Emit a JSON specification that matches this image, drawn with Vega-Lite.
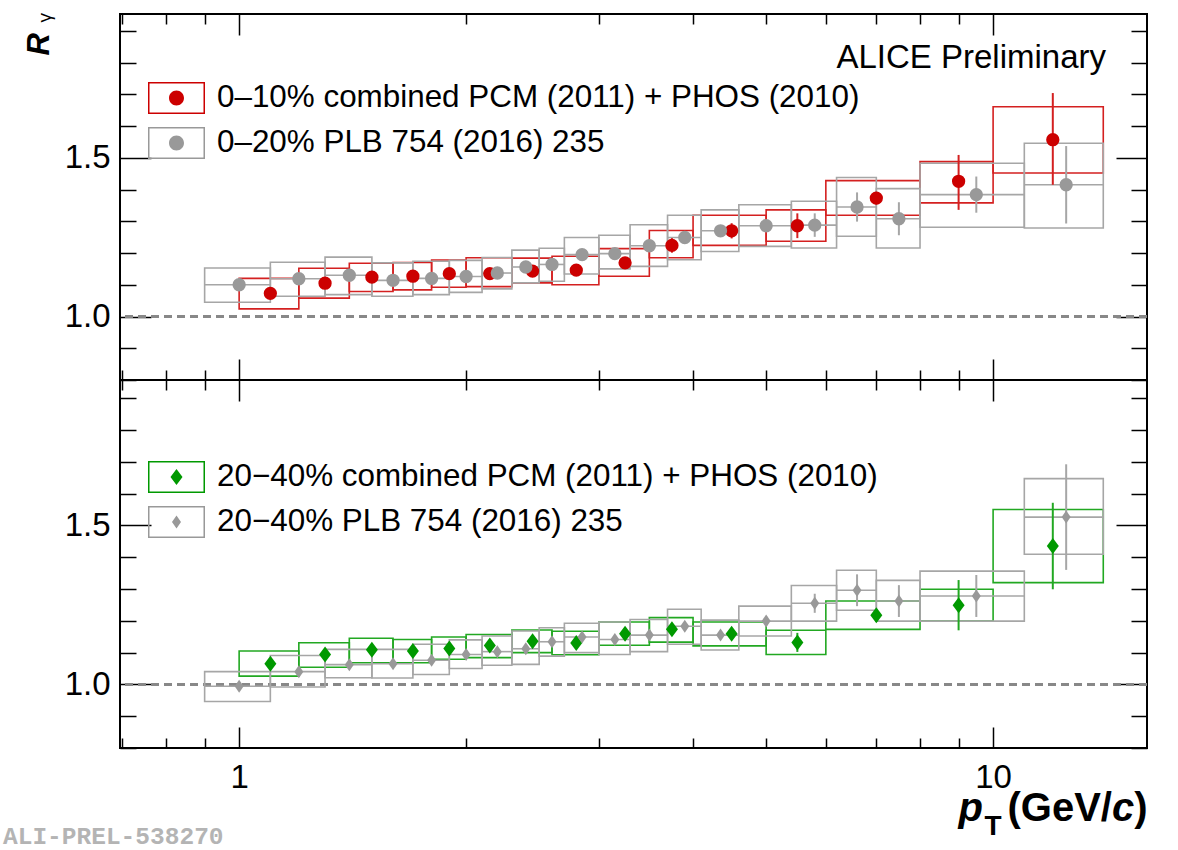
{
  "$schema": "https://vega.github.io/schema/vega-lite/v6.json",
  "background": "white",
  "padding": {"left": 3, "top": 11, "right": 0, "bottom": 0},
  "spacing": 0,
  "bounds": "flush",
  "title": {"text": "ALI-PREL-538270", "orient": "bottom", "anchor": "start", "frame": "bounds", "font": "Liberation Mono", "fontSize": 24.5, "fontWeight": "bold", "color": "#b4b4b4", "baseline": "alphabetic", "offset": 0, "dy": 3, "dx": -19},
  "datasets": {
    "top": [
      {"s": "0–10% combined PCM (2011) + PHOS (2010)", "pt": 1.1, "lo": 1.0, "hi": 1.2, "v": 1.073, "sl": 1.024, "sh": 1.120, "el": 1.065, "eh": 1.081},
      {"s": "0–10% combined PCM (2011) + PHOS (2010)", "pt": 1.3, "lo": 1.2, "hi": 1.4, "v": 1.105, "sl": 1.058, "sh": 1.152, "el": 1.097, "eh": 1.113},
      {"s": "0–10% combined PCM (2011) + PHOS (2010)", "pt": 1.5, "lo": 1.4, "hi": 1.6, "v": 1.124, "sl": 1.079, "sh": 1.168, "el": 1.116, "eh": 1.132},
      {"s": "0–10% combined PCM (2011) + PHOS (2010)", "pt": 1.7, "lo": 1.6, "hi": 1.8, "v": 1.127, "sl": 1.084, "sh": 1.170, "el": 1.119, "eh": 1.135},
      {"s": "0–10% combined PCM (2011) + PHOS (2010)", "pt": 1.9, "lo": 1.8, "hi": 2.0, "v": 1.135, "sl": 1.092, "sh": 1.178, "el": 1.127, "eh": 1.143},
      {"s": "0–10% combined PCM (2011) + PHOS (2010)", "pt": 2.15, "lo": 2.0, "hi": 2.3, "v": 1.135, "sl": 1.094, "sh": 1.185, "el": 1.127, "eh": 1.143},
      {"s": "0–10% combined PCM (2011) + PHOS (2010)", "pt": 2.45, "lo": 2.3, "hi": 2.6, "v": 1.143, "sl": 1.106, "sh": 1.184, "el": 1.133, "eh": 1.153},
      {"s": "0–10% combined PCM (2011) + PHOS (2010)", "pt": 2.8, "lo": 2.6, "hi": 3.0, "v": 1.146, "sl": 1.100, "sh": 1.190, "el": 1.136, "eh": 1.156},
      {"s": "0–10% combined PCM (2011) + PHOS (2010)", "pt": 3.25, "lo": 3.0, "hi": 3.5, "v": 1.169, "sl": 1.127, "sh": 1.214, "el": 1.157, "eh": 1.181},
      {"s": "0–10% combined PCM (2011) + PHOS (2010)", "pt": 3.75, "lo": 3.5, "hi": 4.0, "v": 1.224, "sl": 1.185, "sh": 1.271, "el": 1.201, "eh": 1.247},
      {"s": "0–10% combined PCM (2011) + PHOS (2010)", "pt": 4.5, "lo": 4.0, "hi": 5.0, "v": 1.270, "sl": 1.224, "sh": 1.319, "el": 1.246, "eh": 1.294},
      {"s": "0–10% combined PCM (2011) + PHOS (2010)", "pt": 5.5, "lo": 5.0, "hi": 6.0, "v": 1.286, "sl": 1.237, "sh": 1.336, "el": 1.247, "eh": 1.325},
      {"s": "0–10% combined PCM (2011) + PHOS (2010)", "pt": 7.0, "lo": 6.0, "hi": 8.0, "v": 1.373, "sl": 1.319, "sh": 1.428, "el": 1.353, "eh": 1.393},
      {"s": "0–10% combined PCM (2011) + PHOS (2010)", "pt": 9.0, "lo": 8.0, "hi": 10.0, "v": 1.426, "sl": 1.358, "sh": 1.488, "el": 1.336, "eh": 1.509},
      {"s": "0–10% combined PCM (2011) + PHOS (2010)", "pt": 12.0, "lo": 10.0, "hi": 14.0, "v": 1.557, "sl": 1.452, "sh": 1.661, "el": 1.415, "eh": 1.704},
      {"s": "0–20% PLB 754 (2016) 235", "pt": 1.0, "lo": 0.9, "hi": 1.1, "v": 1.100, "sl": 1.045, "sh": 1.153, "el": 1.092, "eh": 1.108},
      {"s": "0–20% PLB 754 (2016) 235", "pt": 1.2, "lo": 1.1, "hi": 1.3, "v": 1.119, "sl": 1.064, "sh": 1.171, "el": 1.111, "eh": 1.127},
      {"s": "0–20% PLB 754 (2016) 235", "pt": 1.4, "lo": 1.3, "hi": 1.5, "v": 1.130, "sl": 1.069, "sh": 1.187, "el": 1.122, "eh": 1.138},
      {"s": "0–20% PLB 754 (2016) 235", "pt": 1.6, "lo": 1.5, "hi": 1.7, "v": 1.114, "sl": 1.064, "sh": 1.169, "el": 1.106, "eh": 1.122},
      {"s": "0–20% PLB 754 (2016) 235", "pt": 1.8, "lo": 1.7, "hi": 1.9, "v": 1.120, "sl": 1.069, "sh": 1.174, "el": 1.112, "eh": 1.128},
      {"s": "0–20% PLB 754 (2016) 235", "pt": 2.0, "lo": 1.9, "hi": 2.1, "v": 1.126, "sl": 1.076, "sh": 1.177, "el": 1.118, "eh": 1.134},
      {"s": "0–20% PLB 754 (2016) 235", "pt": 2.2, "lo": 2.1, "hi": 2.3, "v": 1.137, "sl": 1.087, "sh": 1.186, "el": 1.129, "eh": 1.145},
      {"s": "0–20% PLB 754 (2016) 235", "pt": 2.4, "lo": 2.3, "hi": 2.5, "v": 1.156, "sl": 1.106, "sh": 1.209, "el": 1.148, "eh": 1.164},
      {"s": "0–20% PLB 754 (2016) 235", "pt": 2.6, "lo": 2.5, "hi": 2.7, "v": 1.164, "sl": 1.111, "sh": 1.215, "el": 1.156, "eh": 1.172},
      {"s": "0–20% PLB 754 (2016) 235", "pt": 2.85, "lo": 2.7, "hi": 3.0, "v": 1.195, "sl": 1.134, "sh": 1.249, "el": 1.185, "eh": 1.205},
      {"s": "0–20% PLB 754 (2016) 235", "pt": 3.15, "lo": 3.0, "hi": 3.3, "v": 1.198, "sl": 1.150, "sh": 1.256, "el": 1.188, "eh": 1.208},
      {"s": "0–20% PLB 754 (2016) 235", "pt": 3.5, "lo": 3.3, "hi": 3.7, "v": 1.223, "sl": 1.158, "sh": 1.289, "el": 1.213, "eh": 1.233},
      {"s": "0–20% PLB 754 (2016) 235", "pt": 3.9, "lo": 3.7, "hi": 4.1, "v": 1.249, "sl": 1.179, "sh": 1.319, "el": 1.237, "eh": 1.261},
      {"s": "0–20% PLB 754 (2016) 235", "pt": 4.35, "lo": 4.1, "hi": 4.6, "v": 1.270, "sl": 1.205, "sh": 1.336, "el": 1.256, "eh": 1.284},
      {"s": "0–20% PLB 754 (2016) 235", "pt": 5.0, "lo": 4.6, "hi": 5.4, "v": 1.286, "sl": 1.221, "sh": 1.352, "el": 1.268, "eh": 1.304},
      {"s": "0–20% PLB 754 (2016) 235", "pt": 5.8, "lo": 5.4, "hi": 6.2, "v": 1.288, "sl": 1.216, "sh": 1.363, "el": 1.251, "eh": 1.325},
      {"s": "0–20% PLB 754 (2016) 235", "pt": 6.6, "lo": 6.2, "hi": 7.0, "v": 1.345, "sl": 1.253, "sh": 1.438, "el": 1.299, "eh": 1.391},
      {"s": "0–20% PLB 754 (2016) 235", "pt": 7.5, "lo": 7.0, "hi": 8.0, "v": 1.308, "sl": 1.216, "sh": 1.403, "el": 1.256, "eh": 1.360},
      {"s": "0–20% PLB 754 (2016) 235", "pt": 9.5, "lo": 8.0, "hi": 11.0, "v": 1.384, "sl": 1.281, "sh": 1.483, "el": 1.327, "eh": 1.441},
      {"s": "0–20% PLB 754 (2016) 235", "pt": 12.5, "lo": 11.0, "hi": 14.0, "v": 1.415, "sl": 1.279, "sh": 1.546, "el": 1.293, "eh": 1.537}
    ],
    "bot": [
      {"s": "20−40% combined PCM (2011) + PHOS (2010)", "pt": 1.1, "lo": 1.0, "hi": 1.2, "v": 1.065, "sl": 1.026, "sh": 1.105, "el": 1.058, "eh": 1.072},
      {"s": "20−40% combined PCM (2011) + PHOS (2010)", "pt": 1.3, "lo": 1.2, "hi": 1.4, "v": 1.094, "sl": 1.054, "sh": 1.131, "el": 1.087, "eh": 1.101},
      {"s": "20−40% combined PCM (2011) + PHOS (2010)", "pt": 1.5, "lo": 1.4, "hi": 1.6, "v": 1.109, "sl": 1.068, "sh": 1.145, "el": 1.102, "eh": 1.116},
      {"s": "20−40% combined PCM (2011) + PHOS (2010)", "pt": 1.7, "lo": 1.6, "hi": 1.8, "v": 1.105, "sl": 1.068, "sh": 1.141, "el": 1.098, "eh": 1.112},
      {"s": "20−40% combined PCM (2011) + PHOS (2010)", "pt": 1.9, "lo": 1.8, "hi": 2.0, "v": 1.113, "sl": 1.079, "sh": 1.149, "el": 1.106, "eh": 1.120},
      {"s": "20−40% combined PCM (2011) + PHOS (2010)", "pt": 2.15, "lo": 2.0, "hi": 2.3, "v": 1.122, "sl": 1.084, "sh": 1.157, "el": 1.115, "eh": 1.129},
      {"s": "20−40% combined PCM (2011) + PHOS (2010)", "pt": 2.45, "lo": 2.3, "hi": 2.6, "v": 1.136, "sl": 1.100, "sh": 1.171, "el": 1.128, "eh": 1.144},
      {"s": "20−40% combined PCM (2011) + PHOS (2010)", "pt": 2.8, "lo": 2.6, "hi": 3.0, "v": 1.130, "sl": 1.093, "sh": 1.167, "el": 1.122, "eh": 1.138},
      {"s": "20−40% combined PCM (2011) + PHOS (2010)", "pt": 3.25, "lo": 3.0, "hi": 3.5, "v": 1.159, "sl": 1.123, "sh": 1.196, "el": 1.149, "eh": 1.169},
      {"s": "20−40% combined PCM (2011) + PHOS (2010)", "pt": 3.75, "lo": 3.5, "hi": 4.0, "v": 1.173, "sl": 1.133, "sh": 1.210, "el": 1.161, "eh": 1.185},
      {"s": "20−40% combined PCM (2011) + PHOS (2010)", "pt": 4.5, "lo": 4.0, "hi": 5.0, "v": 1.159, "sl": 1.121, "sh": 1.196, "el": 1.145, "eh": 1.173},
      {"s": "20−40% combined PCM (2011) + PHOS (2010)", "pt": 5.5, "lo": 5.0, "hi": 6.0, "v": 1.132, "sl": 1.094, "sh": 1.170, "el": 1.102, "eh": 1.162},
      {"s": "20−40% combined PCM (2011) + PHOS (2010)", "pt": 7.0, "lo": 6.0, "hi": 8.0, "v": 1.217, "sl": 1.173, "sh": 1.262, "el": 1.197, "eh": 1.237},
      {"s": "20−40% combined PCM (2011) + PHOS (2010)", "pt": 9.0, "lo": 8.0, "hi": 10.0, "v": 1.249, "sl": 1.199, "sh": 1.299, "el": 1.170, "eh": 1.328},
      {"s": "20−40% combined PCM (2011) + PHOS (2010)", "pt": 12.0, "lo": 10.0, "hi": 14.0, "v": 1.435, "sl": 1.320, "sh": 1.550, "el": 1.299, "eh": 1.571},
      {"s": "20−40% PLB 754 (2016) 235", "pt": 1.0, "lo": 0.9, "hi": 1.1, "v": 0.994, "sl": 0.946, "sh": 1.040, "el": 0.988, "eh": 1.000},
      {"s": "20−40% PLB 754 (2016) 235", "pt": 1.2, "lo": 1.1, "hi": 1.3, "v": 1.040, "sl": 0.992, "sh": 1.091, "el": 1.034, "eh": 1.046},
      {"s": "20−40% PLB 754 (2016) 235", "pt": 1.4, "lo": 1.3, "hi": 1.5, "v": 1.062, "sl": 1.021, "sh": 1.110, "el": 1.056, "eh": 1.068},
      {"s": "20−40% PLB 754 (2016) 235", "pt": 1.6, "lo": 1.5, "hi": 1.7, "v": 1.065, "sl": 1.020, "sh": 1.110, "el": 1.059, "eh": 1.071},
      {"s": "20−40% PLB 754 (2016) 235", "pt": 1.8, "lo": 1.7, "hi": 1.9, "v": 1.076, "sl": 1.031, "sh": 1.126, "el": 1.070, "eh": 1.082},
      {"s": "20−40% PLB 754 (2016) 235", "pt": 2.0, "lo": 1.9, "hi": 2.1, "v": 1.094, "sl": 1.050, "sh": 1.140, "el": 1.088, "eh": 1.100},
      {"s": "20−40% PLB 754 (2016) 235", "pt": 2.2, "lo": 2.1, "hi": 2.3, "v": 1.103, "sl": 1.060, "sh": 1.152, "el": 1.097, "eh": 1.109},
      {"s": "20−40% PLB 754 (2016) 235", "pt": 2.4, "lo": 2.3, "hi": 2.5, "v": 1.112, "sl": 1.063, "sh": 1.168, "el": 1.106, "eh": 1.118},
      {"s": "20−40% PLB 754 (2016) 235", "pt": 2.6, "lo": 2.5, "hi": 2.7, "v": 1.134, "sl": 1.089, "sh": 1.178, "el": 1.128, "eh": 1.140},
      {"s": "20−40% PLB 754 (2016) 235", "pt": 2.85, "lo": 2.7, "hi": 3.0, "v": 1.149, "sl": 1.100, "sh": 1.192, "el": 1.141, "eh": 1.157},
      {"s": "20−40% PLB 754 (2016) 235", "pt": 3.15, "lo": 3.0, "hi": 3.3, "v": 1.141, "sl": 1.094, "sh": 1.196, "el": 1.133, "eh": 1.149},
      {"s": "20−40% PLB 754 (2016) 235", "pt": 3.5, "lo": 3.3, "hi": 3.7, "v": 1.155, "sl": 1.103, "sh": 1.204, "el": 1.145, "eh": 1.165},
      {"s": "20−40% PLB 754 (2016) 235", "pt": 3.9, "lo": 3.7, "hi": 4.1, "v": 1.183, "sl": 1.126, "sh": 1.236, "el": 1.171, "eh": 1.195},
      {"s": "20−40% PLB 754 (2016) 235", "pt": 4.35, "lo": 4.1, "hi": 4.6, "v": 1.155, "sl": 1.108, "sh": 1.202, "el": 1.143, "eh": 1.167},
      {"s": "20−40% PLB 754 (2016) 235", "pt": 5.0, "lo": 4.6, "hi": 5.4, "v": 1.199, "sl": 1.152, "sh": 1.246, "el": 1.183, "eh": 1.215},
      {"s": "20−40% PLB 754 (2016) 235", "pt": 5.8, "lo": 5.4, "hi": 6.2, "v": 1.255, "sl": 1.199, "sh": 1.311, "el": 1.225, "eh": 1.285},
      {"s": "20−40% PLB 754 (2016) 235", "pt": 6.6, "lo": 6.2, "hi": 7.0, "v": 1.296, "sl": 1.233, "sh": 1.359, "el": 1.246, "eh": 1.346},
      {"s": "20−40% PLB 754 (2016) 235", "pt": 7.5, "lo": 7.0, "hi": 8.0, "v": 1.262, "sl": 1.199, "sh": 1.327, "el": 1.212, "eh": 1.312},
      {"s": "20−40% PLB 754 (2016) 235", "pt": 9.5, "lo": 8.0, "hi": 11.0, "v": 1.278, "sl": 1.199, "sh": 1.356, "el": 1.212, "eh": 1.344},
      {"s": "20−40% PLB 754 (2016) 235", "pt": 12.5, "lo": 11.0, "hi": 14.0, "v": 1.526, "sl": 1.409, "sh": 1.647, "el": 1.360, "eh": 1.692}
    ]
  },
  "vconcat": [
    {
      "width": 1027,
      "height": 366,
      "data": {"name": "top"},
      "title": {"text": "ALICE Preliminary", "anchor": "end", "frame": "group", "orient": "top", "offset": 0, "baseline": "alphabetic", "dy": 88, "dx": -41, "fontSize": 33, "font": "Liberation Sans", "fontWeight": "normal", "color": "black"},
      "layer": [
        {
          "mark": {"type": "rule", "color": "#888888", "strokeWidth": 1.5, "strokeDash": [8, 5]},
          "encoding": {
            "y": {"datum": 1, "type": "quantitative", "scale": {"domain": [0.8, 1.953], "nice": false, "zero": false},
              "axis": {"orient": "left", "values": [1, 1.5], "format": ".1f", "tickSize": -31, "labelPadding": 41, "labelFontSize": 33, "domain": false,
                "title": "R", "titleFontSize": 31, "titleFontWeight": "bold", "titleFontStyle": "italic", "titleAngle": 270, "titleAlign": "left", "titleBaseline": "alphabetic", "titleX": -72, "titleY": 41}}
          }
        },
        {
          "mark": {"type": "rect", "filled": false, "strokeWidth": 1.6},
          "encoding": {
            "x": {"field": "lo", "type": "quantitative", "scale": {"type": "log", "domain": [0.695, 16], "nice": false},
              "axis": {"orient": "bottom", "values": [1, 10], "tickSize": -21, "labels": false, "domain": false, "title": null}},
            "x2": {"field": "hi"},
            "y": {"field": "sl", "type": "quantitative", "scale": {"domain": [0.8, 1.953], "nice": false, "zero": false},
              "axis": {"orient": "left", "values": [0.8, 0.9, 1.1, 1.2, 1.3, 1.4, 1.6, 1.7, 1.8, 1.9], "tickSize": -16, "labels": false, "domain": false,
                "title": "γ", "titleFontSize": 19, "titleFontWeight": "normal", "titleAngle": 270, "titleAlign": "left", "titleBaseline": "alphabetic", "titleX": -70, "titleY": 8}},
            "y2": {"field": "sh"},
            "stroke": {"field": "s", "type": "nominal", "scale": {"domain": ["0–20% PLB 754 (2016) 235", "0–10% combined PCM (2011) + PHOS (2010)"], "range": ["#a6a6a6", "#d42020"]}, "legend": null}
          }
        },
        {
          "transform": [{"filter": "indexof(datum.s, 'PLB') >= 0"}],
          "mark": {"type": "rule", "color": "#a6a6a6", "strokeWidth": 1.6},
          "encoding": {
            "x": {"field": "lo", "type": "quantitative", "scale": {"type": "log", "domain": [0.695, 16], "nice": false},
              "axis": {"orient": "bottom", "values": [0.7, 0.8, 0.9, 2, 3, 4, 5, 6, 7, 8, 9], "tickSize": -10, "labels": false, "domain": false, "title": null}},
            "x2": {"field": "hi"},
            "y": {"field": "v", "type": "quantitative", "scale": {"domain": [0.8, 1.953], "nice": false, "zero": false},
              "axis": {"orient": "right", "values": [1, 1.5], "tickSize": -31, "labels": false, "domain": false, "title": null}}
          }
        },
        {
          "mark": {"type": "rule", "strokeWidth": 2},
          "encoding": {
            "x": {"field": "pt", "type": "quantitative", "scale": {"type": "log", "domain": [0.695, 16], "nice": false},
              "axis": {"orient": "top", "values": [1, 10], "tickSize": -21, "labels": false, "domain": false, "title": null}},
            "y": {"field": "el", "type": "quantitative", "scale": {"domain": [0.8, 1.953], "nice": false, "zero": false},
              "axis": {"orient": "right", "values": [0.8, 0.9, 1.1, 1.2, 1.3, 1.4, 1.6, 1.7, 1.8, 1.9], "tickSize": -16, "labels": false, "domain": false, "title": null}},
            "y2": {"field": "eh"},
            "stroke": {"field": "s", "type": "nominal", "scale": {"domain": ["0–20% PLB 754 (2016) 235", "0–10% combined PCM (2011) + PHOS (2010)"], "range": ["#a6a6a6", "#d42020"]}, "legend": null}
          }
        },
        {
          "mark": {"type": "point", "filled": true, "opacity": 1, "shape": "circle", "size": 177, "strokeWidth": 0},
          "encoding": {
            "x": {"field": "pt", "type": "quantitative", "scale": {"type": "log", "domain": [0.695, 16], "nice": false},
              "axis": {"orient": "top", "values": [0.7, 0.8, 0.9, 2, 3, 4, 5, 6, 7, 8, 9], "tickSize": -10, "labels": false, "domain": false, "title": null}},
            "y": {"field": "v", "type": "quantitative", "scale": {"domain": [0.8, 1.953], "nice": false, "zero": false}, "axis": null},
            "fill": {"field": "s", "type": "nominal", "scale": {"domain": ["0–10% combined PCM (2011) + PHOS (2010)", "0–20% PLB 754 (2016) 235"], "range": ["#cc0000", "#999999"]},
              "legend": {"title": null, "orient": "none", "legendX": 28, "legendY": 55.5, "padding": 0, "rowPadding": -10,
                "symbolType": "M-1,-0.56H1V0.56H-1ZM-0.947,-0.507V0.507H0.947V-0.507ZM-0.263,0A0.263,0.263,0,1,0,0.263,0A0.263,0.263,0,1,0,-0.263,0Z",
                "symbolSize": 3249, "symbolStrokeWidth": 0, "symbolOpacity": 1,
                "labelFont": "Liberation Sans", "labelFontSize": 31.4, "labelColor": "black", "labelOffset": 12, "labelLimit": 2000}}
          }
        }
      ],
      "resolve": {"axis": {"x": "independent", "y": "independent"}}
    },
    {
      "width": 1027,
      "height": 368,
      "data": {"name": "bot"},
      "layer": [
        {
          "mark": {"type": "rule", "color": "#888888", "strokeWidth": 1.5, "strokeDash": [8, 5]},
          "encoding": {
            "y": {"datum": 1, "type": "quantitative", "scale": {"domain": [0.8, 1.957], "nice": false, "zero": false},
              "axis": {"orient": "left", "values": [1, 1.5], "format": ".1f", "tickSize": -31, "labelPadding": 41, "labelFontSize": 33, "domain": false, "title": null}}
          }
        },
        {
          "mark": {"type": "rect", "filled": false, "strokeWidth": 1.6},
          "encoding": {
            "x": {"field": "lo", "type": "quantitative", "scale": {"type": "log", "domain": [0.695, 16], "nice": false},
              "axis": {"orient": "bottom", "values": [1, 10], "format": "d", "tickSize": -21, "labels": true, "labelPadding": 34, "labelFontSize": 33, "domain": false,
                "title": "p", "titleFontSize": 40, "titleFontWeight": "bold", "titleFontStyle": "italic", "titleAngle": 0, "titleAlign": "left", "titleBaseline": "alphabetic", "titleX": 838, "titleY": 72}},
            "x2": {"field": "hi"},
            "y": {"field": "sl", "type": "quantitative", "scale": {"domain": [0.8, 1.957], "nice": false, "zero": false},
              "axis": {"orient": "left", "values": [0.8, 0.9, 1.1, 1.2, 1.3, 1.4, 1.6, 1.7, 1.8, 1.9], "tickSize": -16, "labels": false, "domain": false, "title": null}},
            "y2": {"field": "sh"},
            "stroke": {"field": "s", "type": "nominal", "scale": {"domain": ["20−40% PLB 754 (2016) 235", "20−40% combined PCM (2011) + PHOS (2010)"], "range": ["#a6a6a6", "#22a822"]}, "legend": null}
          }
        },
        {
          "transform": [{"filter": "indexof(datum.s, 'PLB') >= 0"}],
          "mark": {"type": "rule", "color": "#a6a6a6", "strokeWidth": 1.6},
          "encoding": {
            "x": {"field": "lo", "type": "quantitative", "scale": {"type": "log", "domain": [0.695, 16], "nice": false},
              "axis": {"orient": "bottom", "values": [0.7, 0.8, 0.9, 2, 3, 4, 5, 6, 7, 8, 9], "tickSize": -10, "labels": false, "domain": false,
                "title": "T", "titleFontSize": 28, "titleFontWeight": "bold", "titleFontStyle": "normal", "titleAngle": 0, "titleAlign": "left", "titleBaseline": "alphabetic", "titleX": 864, "titleY": 86}},
            "x2": {"field": "hi"},
            "y": {"field": "v", "type": "quantitative", "scale": {"domain": [0.8, 1.957], "nice": false, "zero": false},
              "axis": {"orient": "right", "values": [1, 1.5], "tickSize": -31, "labels": false, "domain": false, "title": null}}
          }
        },
        {
          "mark": {"type": "rule", "strokeWidth": 2},
          "encoding": {
            "x": {"field": "pt", "type": "quantitative", "scale": {"type": "log", "domain": [0.695, 16], "nice": false},
              "axis": {"orient": "top", "values": [1, 10], "tickSize": -21, "labels": false, "domain": false,
                "title": "(GeV/", "titleFontSize": 40, "titleFontWeight": "bold", "titleFontStyle": "normal", "titleAngle": 0, "titleAlign": "left", "titleBaseline": "alphabetic", "titleX": 887, "titleY": 440}},
            "y": {"field": "el", "type": "quantitative", "scale": {"domain": [0.8, 1.957], "nice": false, "zero": false},
              "axis": {"orient": "right", "values": [0.8, 0.9, 1.1, 1.2, 1.3, 1.4, 1.6, 1.7, 1.8, 1.9], "tickSize": -16, "labels": false, "domain": false, "title": null}},
            "y2": {"field": "eh"},
            "stroke": {"field": "s", "type": "nominal", "scale": {"domain": ["20−40% PLB 754 (2016) 235", "20−40% combined PCM (2011) + PHOS (2010)"], "range": ["#a6a6a6", "#22a822"]}, "legend": null}
          }
        },
        {
          "mark": {"type": "point", "filled": true, "opacity": 1, "size": 256, "strokeWidth": 0},
          "encoding": {
            "x": {"field": "pt", "type": "quantitative", "scale": {"type": "log", "domain": [0.695, 16], "nice": false},
              "axis": {"orient": "top", "values": [0.7, 0.8, 0.9, 2, 3, 4, 5, 6, 7, 8, 9], "tickSize": -10, "labels": false, "domain": false,
                "title": "c", "titleFontSize": 40, "titleFontWeight": "bold", "titleFontStyle": "italic", "titleAngle": 0, "titleAlign": "left", "titleBaseline": "alphabetic", "titleX": 991.5, "titleY": 440}},
            "y": {"field": "v", "type": "quantitative", "scale": {"domain": [0.8, 1.957], "nice": false, "zero": false},
              "axis": {"orient": "right", "ticks": false, "labels": false, "domain": false,
                "title": ")", "titleFontSize": 40, "titleFontWeight": "bold", "titleFontStyle": "normal", "titleAngle": 0, "titleAlign": "left", "titleBaseline": "alphabetic", "titleX": -13.3, "titleY": 440}},
            "shape": {"field": "s", "type": "nominal", "scale": {"domain": ["20−40% PLB 754 (2016) 235", "20−40% combined PCM (2011) + PHOS (2010)"], "range": ["M0,-0.8125L0.5625,0L0,0.8125L-0.5625,0Z", "M0,-1L0.75,0L0,1L-0.75,0Z"]}, "legend": null},
            "fill": {"field": "s", "type": "nominal", "scale": {"domain": ["20−40% combined PCM (2011) + PHOS (2010)", "20−40% PLB 754 (2016) 235"], "range": ["#009900", "#999999"]},
              "legend": {"title": null, "orient": "none", "legendX": 28, "legendY": 68.5, "padding": 0, "rowPadding": -11,
                "symbolType": "M-1,-0.56H1V0.56H-1ZM-0.947,-0.507V0.507H0.947V-0.507ZM0,-0.281L0.211,0L0,0.281L-0.211,0Z",
                "symbolSize": 3249, "symbolStrokeWidth": 0, "symbolOpacity": 1,
                "labelFont": "Liberation Sans", "labelFontSize": 31.4, "labelColor": "black", "labelOffset": 12, "labelLimit": 2000,
                "encode": {"symbols": {"update": {"shape": {"signal": "datum.index === 0 ? 'M-1,-0.56H1V0.56H-1ZM-0.947,-0.507V0.507H0.947V-0.507ZM0,-0.281L0.211,0L0,0.281L-0.211,0Z' : 'M-1,-0.56H1V0.56H-1ZM-0.947,-0.507V0.507H0.947V-0.507ZM0,-0.228L0.158,0L0,0.228L-0.158,0Z'"}}}}}}
          }
        }
      ],
      "resolve": {"axis": {"x": "independent", "y": "independent"}}
    }
  ],
  "resolve": {"scale": {"fill": "independent", "stroke": "independent", "shape": "independent"}, "legend": {"fill": "independent", "stroke": "independent", "shape": "independent"}},
  "config": {
    "font": "Liberation Sans",
    "view": {"stroke": "black", "strokeWidth": 2},
    "axis": {"labelFont": "Liberation Sans", "labelColor": "black", "tickColor": "black", "tickWidth": 1.5, "grid": false, "domain": false, "titleColor": "black", "titleFont": "Liberation Sans", "labelOverlap": false, "labelFlush": false}
  }
}
